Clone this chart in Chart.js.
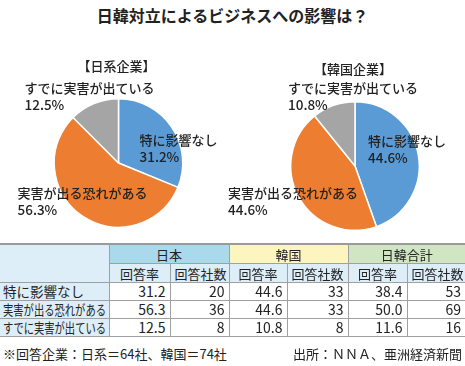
<!DOCTYPE html>
<html lang="ja">
<head>
<meta charset="utf-8">
<script src="https://cdn.jsdelivr.net/npm/chart.js@4"></script>
<style>
  html, body { margin: 0; padding: 0; background: #fff; }
  body { width: 465px; height: 366px; position: relative; overflow: hidden;
         font-family: "Noto Sans CJK JP", "Noto Sans", sans-serif; color: #222; }
  #title { position: absolute; left: 0; top: 2px; width: 465px; text-align: center;
           font-size: 16px; font-weight: 700; line-height: 26px; }
  .pie { position: absolute; top: 40px; height: 200px; }
  #pieJp { left: 0; width: 235px; }
  #pieKr { left: 220px; width: 245px; }
  table { position: absolute; left: 0; top: 243px; width: 465px; border-collapse: collapse;
          table-layout: fixed; font-size: 13px; border-top: 2px solid #9a9a9a; }
  td { border: 1px solid #a0a0a0; padding: 0 4px; height: 17px; line-height: 17px;
       white-space: nowrap; overflow: hidden; }
  td.lbl { background: #ddeef8; text-align: left; padding-left: 3px; border-left: none; font-size: 13.5px; }
  td.lbl span { display: inline-block; transform-origin: left center; }
  td.hd { background: #ddeef8; text-align: center; }
  td.num { text-align: right; font-size: 14px; }
  td.last { border-right: none; }
  .foot { position: absolute; top: 344px; font-size: 13px; line-height: 20px; }
</style>
</head>
<body>
<div id="title">日韓対立によるビジネスへの影響は？</div>
<div class="pie" id="pieJp"><canvas id="chartJp"></canvas></div>
<div class="pie" id="pieKr"><canvas id="chartKr"></canvas></div>
<table id="tbl"></table>
<div class="foot" style="left:3px">※回答企業：日系＝64社、韓国＝74社</div>
<div class="foot" style="right:3px">出所：ＮＮＡ、亜洲経済新聞</div>

<script>
// データ
const categorias = ['特に影響なし', '実害が出る恐れがある', 'すでに実害が出ている'];
const valoresJp = [31.2, 56.3, 12.5];
const valoresKr = [44.6, 44.6, 10.8];
const colores = ['#5b9bd5', '#ed7d31', '#a5a5a5'];

const grupos = ['日本', '韓国', '日韓合計'];
const subcolumnas = ['回答率', '回答社数'];
const tasaJp = ['31.2', '56.3', '12.5'];
const cuentaJp = [20, 36, 8];
const tasaKr = ['44.6', '44.6', '10.8'];
const cuentaKr = [33, 33, 8];
const tasaTotal = ['38.4', '50.0', '11.6'];
const cuentaTotal = [53, 69, 16];
const coloresGrupo = ['#a9d9ea', '#fcf5c0', '#d0e6c3'];

// Etiquetas: desplazamiento desde el centro del pastel (texto, no marcas)
function labelPlugin(subtitulo, offsets) {
    return {
        id: 'etiquetas',
        afterDatasetsDraw(chart) {
            const ctx = chart.ctx;
            const meta = chart.getDatasetMeta(0);
            const arc = meta.data[0];
            const cx = arc.x, cy = arc.y;
            ctx.save();
            ctx.fillStyle = '#222';
            ctx.textBaseline = 'middle';
            ctx.font = '500 13px "Noto Sans CJK JP"';
            ctx.textAlign = 'center';
            ctx.fillText(subtitulo, cx - 2, cy - 97);
            ctx.textAlign = 'left';
            meta.data.forEach((el, i) => {
                const o = offsets[i];
                const valor = chart.data.datasets[0].data[i].toFixed(1) + '%';
                ctx.font = '500 13px "Noto Sans CJK JP"';
                ctx.fillText(chart.data.labels[i], cx + o[0], cy + o[1]);
                ctx.font = '500 13.5px "Noto Sans CJK JP"';
                ctx.fillText(valor, cx + o[0], cy + o[1] + 17);
            });
            ctx.restore();
        }
    };
}

function crearPastel(id, valores, subtitulo, padding, offsets) {
    new Chart(document.getElementById(id).getContext('2d'), {
        type: 'pie',
        data: {
            labels: categorias,
            datasets: [{
                data: valores,
                backgroundColor: colores,
                borderColor: '#ffffff',
                borderWidth: 1.5
            }]
        },
        options: {
            responsive: true,
            maintainAspectRatio: false,
            animation: false,
            layout: { padding: padding },
            plugins: {
                legend: { display: false },
                tooltip: { enabled: false }
            }
        },
        plugins: [labelPlugin(subtitulo, offsets)]
    });
}

// Pastel 日系: centro aprox (119,160), radio 65
crearPastel('chartJp', valoresJp, '【日系企業】',
    { left: 53, right: 51, top: 58, bottom: 12 },
    [[21, -23], [-101, 30], [-94, -75]]);

// Pastel 韓国: centro aprox (355,163), radio 65
crearPastel('chartKr', valoresKr, '【韓国企業】',
    { left: 70, right: 45, top: 61, bottom: 9 },
    [[13, -25], [-127, 27], [-67, -78]]);

// Tabla
function cargarTabla() {
    const anchos = [109, 61, 59, 58, 61, 59, 58];
    let html = '<colgroup>' + anchos.map(w => `<col style="width:${w}px">`).join('') + '</colgroup>';
    html += '<tr><td class="hd" rowspan="2" style="border-left:none;height:37px"></td>';
    grupos.forEach((g, i) => {
        const ultimo = i === grupos.length - 1 ? ' last' : '';
        html += `<td colspan="2" class="hd${ultimo}" style="background:${coloresGrupo[i]};height:18px">${g}</td>`;
    });
    html += '</tr><tr>';
    grupos.forEach((g, i) => {
        subcolumnas.forEach((s, j) => {
            const ultimo = (i === grupos.length - 1 && j === 1) ? ' last' : '';
            html += `<td class="hd${ultimo}" style="height:18px">${s}</td>`;
        });
    });
    html += '</tr>';
    categorias.forEach((c, r) => {
        html += `<tr><td class="lbl"><span>${c}</span></td>
            <td class="num">${tasaJp[r]}</td><td class="num">${cuentaJp[r]}</td>
            <td class="num">${tasaKr[r]}</td><td class="num">${cuentaKr[r]}</td>
            <td class="num">${tasaTotal[r]}</td><td class="num last">${cuentaTotal[r]}</td></tr>`;
    });
    document.getElementById('tbl').innerHTML = html;

    // Comprimir las etiquetas largas para que quepan en la columna
    document.querySelectorAll('td.lbl span').forEach(span => {
        const ancho = span.getBoundingClientRect().width;
        if (ancho > 103) span.style.transform = `scaleX(${103 / ancho})`;
    });
}
cargarTabla();
</script>
</body>
</html>
